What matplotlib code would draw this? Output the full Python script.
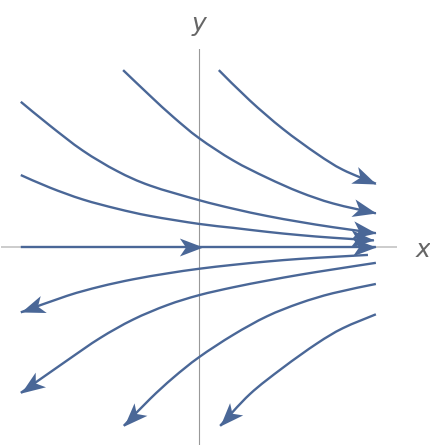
import matplotlib
matplotlib.use('Agg')
from matplotlib import pyplot as plt
from matplotlib.path import Path
from matplotlib.patches import PathPatch
from matplotlib.markers import MarkerStyle
import numpy as np

# stream lines, listed in flow direction (start -> arrow tip)
a_x = [-1.15, -0.74, -0.39, 0.00, 0.52, 1.03, 1.53, 2.03, 2.68]
a_y = [2.68, 2.29, 1.97, 1.65, 1.31, 1.05, 0.83, 0.66, 0.51]

b_x = [0.30, 0.77, 1.27, 1.79, 2.18, 2.68]
b_y = [2.68, 2.22, 1.79, 1.41, 1.17, 0.96]

c_x = [-2.70, -2.26, -1.76, -1.24, -0.74, 0.00, 0.52, 1.03, 1.53, 2.03, 2.68]
c_y = [2.20, 1.84, 1.46, 1.15, 0.93, 0.71, 0.58, 0.47, 0.38, 0.30, 0.21]

d_x = [-2.70, -2.26, -1.76, -1.24, -0.74, 0.00, 0.52, 1.03, 1.53, 2.03, 2.65]
d_y = [1.09, 0.90, 0.72, 0.58, 0.47, 0.35, 0.29, 0.23, 0.18, 0.14, 0.10]

e_x = [-2.70, 0.06, 2.68]
e_y = [0.00, 0.00, 0.00]

f_x = [2.56, 2.03, 1.53, 1.03, 0.52, 0.00, -0.48, -1.00, -1.50, -2.00, -2.70]
f_y = [-0.12, -0.15, -0.18, -0.22, -0.27, -0.33, -0.40, -0.49, -0.60, -0.74, -0.99]

g_x = [2.68, 2.03, 1.53, 1.03, 0.52, 0.00, -0.48, -1.00, -1.50, -2.00, -2.70]
g_y = [-0.24, -0.34, -0.42, -0.51, -0.61, -0.73, -0.88, -1.10, -1.38, -1.72, -2.21]

h_x = [2.68, 2.03, 1.53, 1.03, 0.52, 0.00, -0.39, -0.74, -1.14]
h_y = [-0.56, -0.70, -0.85, -1.05, -1.33, -1.67, -1.98, -2.30, -2.71]

i_x = [2.68, 2.18, 1.79, 1.27, 0.77, 0.32]
i_y = [-1.02, -1.23, -1.46, -1.83, -2.23, -2.71]

streams = [(a_x, a_y), (b_x, b_y), (c_x, c_y), (d_x, d_y), (e_x, e_y),
           (f_x, f_y), (g_x, g_y), (h_x, h_y), (i_x, i_y)]
mid_arrows = [(e_x, e_y, 1)]   # extra arrow head on the x axis stream

col = '#4a6797'

# arrow head with a notched back, tip at the origin
head = Path([(0, 0), (-1, 0.38), (-0.74, 0), (-1, -0.38), (0, 0)],
            [Path.MOVETO, Path.LINETO, Path.LINETO, Path.LINETO, Path.CLOSEPOLY])

def arrow_head(ax, x, y, ang):
    m = MarkerStyle(head).rotated(deg=ang)
    ax.plot([x], [y], marker=m, markersize=34, color=col, markeredgewidth=0,
            linestyle='none', zorder=3)

def smooth_path(xs, ys):
    # catmull-rom style bezier through the read points (drawing only)
    p = np.column_stack([xs, ys])
    verts = [p[0]]
    codes = [Path.MOVETO]
    n = len(p)
    for k in range(n - 1):
        p0 = p[k - 1] if k > 0 else p[k]
        p3 = p[k + 2] if k + 2 < n else p[k + 1]
        c1 = p[k] + (p[k + 1] - p0) / 6
        c2 = p[k + 1] - (p3 - p[k]) / 6
        verts += [c1, c2, p[k + 1]]
        codes += [Path.CURVE4] * 3
    return Path(verts, codes)

fig = plt.figure(figsize=(4.31, 4.47), dpi=100)
ax = fig.add_axes([1/431, 2/447, 396/431, 396/447])
ax.set_xlim(-3, 3)
ax.set_ylim(-3, 3)
ax.axis('off')

ax.axvline(0, color='#999999', lw=0.8, zorder=1)
ax.axhline(0, color='#c4c4c4', lw=1.2, zorder=1)

for xs, ys in streams:
    ax.add_patch(PathPatch(smooth_path(xs, ys), facecolor='none', edgecolor=col,
                           lw=1.7, capstyle='butt', zorder=2))
    ang = np.degrees(np.arctan2(ys[-1] - ys[-2], xs[-1] - xs[-2]))
    arrow_head(ax, xs[-1], ys[-1], ang)

for xs, ys, k in mid_arrows:
    ang = np.degrees(np.arctan2(ys[k] - ys[k-1], xs[k] - xs[k-1]))
    arrow_head(ax, xs[k], ys[k], ang)

ax.text(0, 3.38, 'y', style='italic', fontsize=18, color='#666666',
        ha='center', va='center', clip_on=False)
ax.text(3.39, -0.05, 'x', style='italic', fontsize=18, color='#666666',
        ha='center', va='center', clip_on=False)

plt.savefig('out.png', dpi=100)
